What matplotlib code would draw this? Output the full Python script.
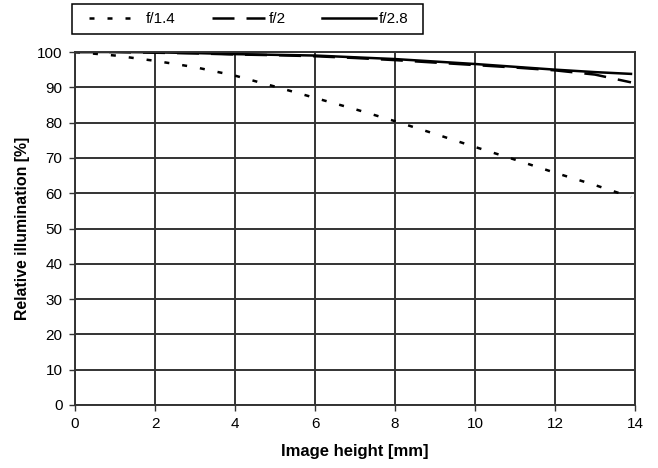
import matplotlib.pyplot as plt
from matplotlib.patches import Rectangle

plt.rcParams['font.family'] = ['Liberation Sans', 'DejaVu Sans']

# --- DATA ---
x_mm = [0, 1, 2, 3, 4, 5, 6, 7, 8, 9, 10, 11, 12, 13, 13.9]
f14 = [100, 99.0, 97.5, 95.7, 93.3, 90.2, 87.0, 83.8, 80.4, 76.8, 73.1, 69.5, 65.8, 62.3, 58.9]
f2 = [100, 100, 99.8, 99.6, 99.3, 99.1, 98.8, 98.3, 97.7, 97.0, 96.3, 95.6, 94.8, 93.6, 91.4]
f28 = [100, 100, 99.9, 99.7, 99.4, 99.2, 99.0, 98.5, 98.0, 97.3, 96.6, 95.8, 95.0, 94.3, 93.8]

labels = ['f/1.4', 'f/2', 'f/2.8']

W, H = 658, 468
fig = plt.figure(figsize=(W / 100, H / 100), dpi=100)
ax = fig.add_axes([75 / W, 1 - 405 / H, 560 / W, 353 / H])

ax.plot(x_mm, f14, color='black', lw=1.8, linestyle=(0, (2.0, 5.2)), label=labels[0])
ax.plot(x_mm, f2, color='black', lw=1.8, linestyle=(0, (8.8, 4.8)), label=labels[1])
ax.plot(x_mm, f28, color='black', lw=1.8, linestyle='-', label=labels[2])

ax.set_xlim(0, 14)
ax.set_ylim(0, 100)
ax.set_xticks(range(0, 15, 2))
ax.set_yticks(range(0, 101, 10))
ax.grid(True, color='#333333', lw=1.4)
ax.set_axisbelow(True)
for s in ax.spines.values():
    s.set_color('#333333')
    s.set_linewidth(1.4)
ax.tick_params(direction='out', length=4, width=1, color='#333333', labelsize=11, pad=5)

ax.set_xlabel('Image height [mm]', fontsize=12, fontweight='bold', labelpad=9)
ax.set_ylabel('Relative illumination [%]', fontsize=11.4, fontweight='bold', labelpad=5)

# legend above the plot, square box drawn separately
leg = fig.legend(loc='center left', bbox_to_anchor=(89 / W, 1 - 19 / H), ncol=3, frameon=False,
                 fontsize=11, handlelength=3.5, columnspacing=2.4, handletextpad=0.2,
                 borderpad=0, borderaxespad=0)
fig.patches.append(Rectangle((72 / W, 1 - 34 / H), 351 / W, 30 / H, transform=fig.transFigure,
                             fill=False, edgecolor='black', lw=1.1))

fig.savefig('out.png', dpi=100)
